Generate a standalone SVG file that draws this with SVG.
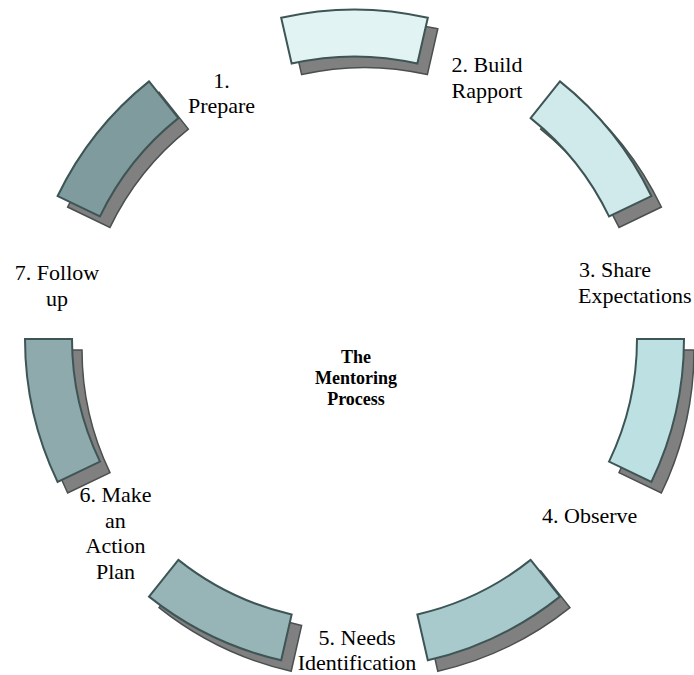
<svg xmlns="http://www.w3.org/2000/svg" xmlns:xlink="http://www.w3.org/1999/xlink" width="694" height="675" viewBox="0 0 694 675">
<style>
.shadow{fill:#808080;stroke:#4a4f4f;stroke-width:1.5;}
.seg{stroke:#3e5556;stroke-width:2;stroke-linejoin:miter;}
.lbl{font-family:"Liberation Serif","Times New Roman",serif;font-size:22px;fill:#000;}
.ctr{font-family:"Liberation Serif","Times New Roman",serif;font-size:18px;font-weight:bold;fill:#000;text-anchor:middle;}
.mid{text-anchor:middle;}
</style>
<defs>
<path id="p1" d="M281.18,17.76 A329.5,329.5 0 0 1 427.82,17.76 L417.36,63.58 A282.5,282.5 0 0 0 291.64,63.58 Z"/>
<path id="p2" d="M559.94,81.39 A329.5,329.5 0 0 1 651.37,196.04 L609.02,216.43 A282.5,282.5 0 0 0 530.64,118.13 Z"/>
<path id="p3" d="M684,339 A329.5,329.5 0 0 1 651.37,481.96 L609.02,461.57 A282.5,282.5 0 0 0 637,339 Z"/>
<path id="p4" d="M559.94,596.61 A329.5,329.5 0 0 1 427.82,660.24 L417.36,614.42 A282.5,282.5 0 0 0 530.64,559.87 Z"/>
<path id="p5" d="M281.18,660.24 A329.5,329.5 0 0 1 149.06,596.61 L178.36,559.87 A282.5,282.5 0 0 0 291.64,614.42 Z"/>
<path id="p6" d="M57.63,481.96 A329.5,329.5 0 0 1 25,339 L72,339 A282.5,282.5 0 0 0 99.98,461.57 Z"/>
<path id="p7" d="M57.63,196.04 A329.5,329.5 0 0 1 149.06,81.39 L178.36,118.13 A282.5,282.5 0 0 0 99.98,216.43 Z"/>
</defs>
<g id="connectors"></g>
<g id="seg-top">
<use xlink:href="#p1" href="#p1" class="shadow" transform="translate(10,11)"/>
<use xlink:href="#p1" href="#p1" class="seg" fill="#e2f3f4"/>
</g>
<g id="seg-upper-right">
<use xlink:href="#p2" href="#p2" class="shadow" transform="translate(10,11)"/>
<use xlink:href="#p2" href="#p2" class="seg" fill="#d0e9eb"/>
</g>
<g id="seg-right">
<use xlink:href="#p3" href="#p3" class="shadow" transform="translate(10,11)"/>
<use xlink:href="#p3" href="#p3" class="seg" fill="#bde0e3"/>
</g>
<g id="seg-lower-right">
<use xlink:href="#p4" href="#p4" class="shadow" transform="translate(10,11)"/>
<use xlink:href="#p4" href="#p4" class="seg" fill="#a8cacc"/>
</g>
<g id="seg-lower-left">
<use xlink:href="#p5" href="#p5" class="shadow" transform="translate(10,11)"/>
<use xlink:href="#p5" href="#p5" class="seg" fill="#97b5b7"/>
</g>
<g id="seg-left">
<use xlink:href="#p6" href="#p6" class="shadow" transform="translate(10,11)"/>
<use xlink:href="#p6" href="#p6" class="seg" fill="#8eaaac"/>
</g>
<g id="seg-upper-left">
<use xlink:href="#p7" href="#p7" class="shadow" transform="translate(10,11)"/>
<use xlink:href="#p7" href="#p7" class="seg" fill="#7f9b9d"/>
</g>
<g id="label-1"><text class="lbl mid" x="221.5" y="88">1.</text><text class="lbl mid" x="221.5" y="113">Prepare</text></g>
<g id="label-2"><text class="lbl mid" x="487" y="72">2. Build</text><text class="lbl mid" x="487" y="97.5">Rapport</text></g>
<g id="label-3"><text class="lbl" x="579" y="277">3. Share</text><text class="lbl" x="578" y="302.5">Expectations</text></g>
<g id="label-4"><text class="lbl" x="542" y="523">4. Observe</text></g>
<g id="label-5"><text class="lbl mid" x="357" y="644.5">5. Needs</text><text class="lbl mid" x="357" y="670">Identification</text></g>
<g id="label-6"><text class="lbl mid" x="115.5" y="502">6. Make</text><text class="lbl mid" x="115.5" y="527.5">an</text><text class="lbl mid" x="115.5" y="553">Action</text><text class="lbl mid" x="115.5" y="578.5">Plan</text></g>
<g id="label-7"><text class="lbl mid" x="57" y="280">7. Follow</text><text class="lbl mid" x="57" y="305.5">up</text></g>
<g id="center"><text class="ctr" x="356" y="363">The</text><text class="ctr" x="356" y="384">Mentoring</text><text class="ctr" x="356" y="405">Process</text></g>
</svg>
